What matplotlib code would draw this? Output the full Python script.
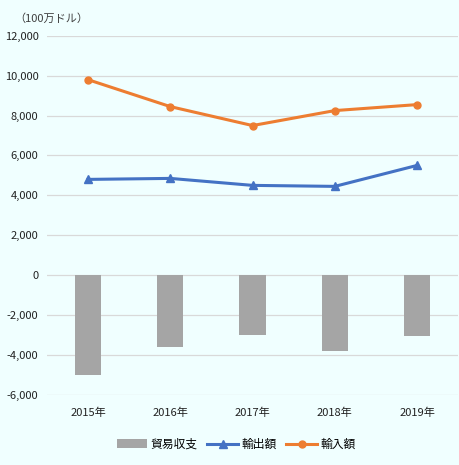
import numpy as np
import matplotlib
matplotlib.use("Agg")
import matplotlib.pyplot as plt
from matplotlib.ticker import FuncFormatter

plt.rcParams['font.family'] = ['Noto Sans CJK JP', 'DejaVu Sans']

# data (100万ドル)
years = ['2015年', '2016年', '2017年', '2018年', '2019年']
balance = [-5000, -3600, -3000, -3800, -3050]
exports = [4800, 4850, 4500, 4450, 5500]
imports = [9800, 8450, 7500, 8250, 8550]

bg = '#f0ffff'
fig = plt.figure(figsize=(4.6, 4.65), dpi=100, facecolor=bg)
ax = fig.add_axes([0.102, 0.151, 0.894, 0.772], facecolor=bg)

x = np.arange(len(years))
bars = ax.bar(x, balance, width=0.32, color='#a5a5a5', label='貿易収支', zorder=2)
l1, = ax.plot(x, exports, color='#4472c4', lw=2.2, marker='^', ms=5.5, label='輸出額', zorder=3)
l2, = ax.plot(x, imports, color='#ed7d31', lw=2.2, marker='o', ms=5, label='輸入額', zorder=3)

ax.set_ylim(-6000, 12000)
ax.set_yticks(range(-6000, 12001, 2000))
ax.yaxis.set_major_formatter(FuncFormatter(lambda v, p: f'{int(v):,}'))
ax.set_xlim(-0.5, len(years) - 0.5)
ax.set_xticks(x)
ax.set_xticklabels(years)
ax.grid(axis='y', color='#d9d9d9', lw=0.9, zorder=0)
for s in ax.spines.values():
    s.set_visible(False)
ax.tick_params(length=0, labelsize=8, colors='#222222', pad=6)
ax.tick_params(axis='x', pad=9)

fig.text(0.03, 0.952, '（100万ドル）', fontsize=8, color='#404040')

ax.legend(handles=[bars, l1, l2], loc='upper center', bbox_to_anchor=(0.46, -0.09),
          ncol=3, frameon=False, fontsize=8.5, handlelength=2.6, columnspacing=0.8,
          handletextpad=0.3)

fig.savefig('out.png', dpi=100, facecolor=bg)
